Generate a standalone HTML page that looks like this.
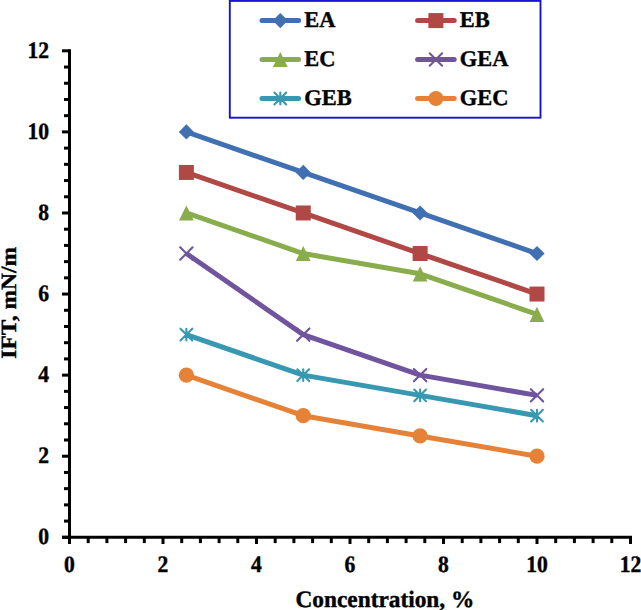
<!DOCTYPE html>
<html><head><meta charset="utf-8"><style>
html,body{margin:0;padding:0;background:#fff;}
svg{display:block;}
text{font-family:"Liberation Serif", serif;font-weight:bold;font-size:23.5px;fill:#000;stroke:#000;stroke-width:0.4px;text-rendering:geometricPrecision;}
</style></head><body>
<svg width="641" height="610" viewBox="0 0 641 610">
<line x1="69.5" y1="49.32" x2="69.5" y2="544.00" stroke="#000" stroke-width="3"/>
<line x1="62.00" y1="537.3" x2="632.00" y2="537.3" stroke="#000" stroke-width="3"/>
<line x1="62.00" y1="537.30" x2="69.50" y2="537.30" stroke="#000" stroke-width="3"/>
<line x1="64.00" y1="521.08" x2="69.50" y2="521.08" stroke="#000" stroke-width="3"/>
<line x1="64.00" y1="504.87" x2="69.50" y2="504.87" stroke="#000" stroke-width="3"/>
<line x1="64.00" y1="488.65" x2="69.50" y2="488.65" stroke="#000" stroke-width="3"/>
<line x1="64.00" y1="472.44" x2="69.50" y2="472.44" stroke="#000" stroke-width="3"/>
<line x1="62.00" y1="456.22" x2="69.50" y2="456.22" stroke="#000" stroke-width="3"/>
<line x1="64.00" y1="440.00" x2="69.50" y2="440.00" stroke="#000" stroke-width="3"/>
<line x1="64.00" y1="423.79" x2="69.50" y2="423.79" stroke="#000" stroke-width="3"/>
<line x1="64.00" y1="407.57" x2="69.50" y2="407.57" stroke="#000" stroke-width="3"/>
<line x1="64.00" y1="391.36" x2="69.50" y2="391.36" stroke="#000" stroke-width="3"/>
<line x1="62.00" y1="375.14" x2="69.50" y2="375.14" stroke="#000" stroke-width="3"/>
<line x1="64.00" y1="358.92" x2="69.50" y2="358.92" stroke="#000" stroke-width="3"/>
<line x1="64.00" y1="342.71" x2="69.50" y2="342.71" stroke="#000" stroke-width="3"/>
<line x1="64.00" y1="326.49" x2="69.50" y2="326.49" stroke="#000" stroke-width="3"/>
<line x1="64.00" y1="310.28" x2="69.50" y2="310.28" stroke="#000" stroke-width="3"/>
<line x1="62.00" y1="294.06" x2="69.50" y2="294.06" stroke="#000" stroke-width="3"/>
<line x1="64.00" y1="277.84" x2="69.50" y2="277.84" stroke="#000" stroke-width="3"/>
<line x1="64.00" y1="261.63" x2="69.50" y2="261.63" stroke="#000" stroke-width="3"/>
<line x1="64.00" y1="245.41" x2="69.50" y2="245.41" stroke="#000" stroke-width="3"/>
<line x1="64.00" y1="229.20" x2="69.50" y2="229.20" stroke="#000" stroke-width="3"/>
<line x1="62.00" y1="212.98" x2="69.50" y2="212.98" stroke="#000" stroke-width="3"/>
<line x1="64.00" y1="196.76" x2="69.50" y2="196.76" stroke="#000" stroke-width="3"/>
<line x1="64.00" y1="180.55" x2="69.50" y2="180.55" stroke="#000" stroke-width="3"/>
<line x1="64.00" y1="164.33" x2="69.50" y2="164.33" stroke="#000" stroke-width="3"/>
<line x1="64.00" y1="148.12" x2="69.50" y2="148.12" stroke="#000" stroke-width="3"/>
<line x1="62.00" y1="131.90" x2="69.50" y2="131.90" stroke="#000" stroke-width="3"/>
<line x1="64.00" y1="115.68" x2="69.50" y2="115.68" stroke="#000" stroke-width="3"/>
<line x1="64.00" y1="99.47" x2="69.50" y2="99.47" stroke="#000" stroke-width="3"/>
<line x1="64.00" y1="83.25" x2="69.50" y2="83.25" stroke="#000" stroke-width="3"/>
<line x1="64.00" y1="67.04" x2="69.50" y2="67.04" stroke="#000" stroke-width="3"/>
<line x1="62.00" y1="50.82" x2="69.50" y2="50.82" stroke="#000" stroke-width="3"/>
<line x1="69.50" y1="537.30" x2="69.50" y2="544.00" stroke="#000" stroke-width="3"/>
<line x1="88.20" y1="537.30" x2="88.20" y2="543.10" stroke="#000" stroke-width="3"/>
<line x1="106.90" y1="537.30" x2="106.90" y2="543.10" stroke="#000" stroke-width="3"/>
<line x1="125.60" y1="537.30" x2="125.60" y2="543.10" stroke="#000" stroke-width="3"/>
<line x1="144.30" y1="537.30" x2="144.30" y2="543.10" stroke="#000" stroke-width="3"/>
<line x1="163.00" y1="537.30" x2="163.00" y2="544.00" stroke="#000" stroke-width="3"/>
<line x1="181.70" y1="537.30" x2="181.70" y2="543.10" stroke="#000" stroke-width="3"/>
<line x1="200.40" y1="537.30" x2="200.40" y2="543.10" stroke="#000" stroke-width="3"/>
<line x1="219.10" y1="537.30" x2="219.10" y2="543.10" stroke="#000" stroke-width="3"/>
<line x1="237.80" y1="537.30" x2="237.80" y2="543.10" stroke="#000" stroke-width="3"/>
<line x1="256.50" y1="537.30" x2="256.50" y2="544.00" stroke="#000" stroke-width="3"/>
<line x1="275.20" y1="537.30" x2="275.20" y2="543.10" stroke="#000" stroke-width="3"/>
<line x1="293.90" y1="537.30" x2="293.90" y2="543.10" stroke="#000" stroke-width="3"/>
<line x1="312.60" y1="537.30" x2="312.60" y2="543.10" stroke="#000" stroke-width="3"/>
<line x1="331.30" y1="537.30" x2="331.30" y2="543.10" stroke="#000" stroke-width="3"/>
<line x1="350.00" y1="537.30" x2="350.00" y2="544.00" stroke="#000" stroke-width="3"/>
<line x1="368.70" y1="537.30" x2="368.70" y2="543.10" stroke="#000" stroke-width="3"/>
<line x1="387.40" y1="537.30" x2="387.40" y2="543.10" stroke="#000" stroke-width="3"/>
<line x1="406.10" y1="537.30" x2="406.10" y2="543.10" stroke="#000" stroke-width="3"/>
<line x1="424.80" y1="537.30" x2="424.80" y2="543.10" stroke="#000" stroke-width="3"/>
<line x1="443.50" y1="537.30" x2="443.50" y2="544.00" stroke="#000" stroke-width="3"/>
<line x1="462.20" y1="537.30" x2="462.20" y2="543.10" stroke="#000" stroke-width="3"/>
<line x1="480.90" y1="537.30" x2="480.90" y2="543.10" stroke="#000" stroke-width="3"/>
<line x1="499.60" y1="537.30" x2="499.60" y2="543.10" stroke="#000" stroke-width="3"/>
<line x1="518.30" y1="537.30" x2="518.30" y2="543.10" stroke="#000" stroke-width="3"/>
<line x1="537.00" y1="537.30" x2="537.00" y2="544.00" stroke="#000" stroke-width="3"/>
<line x1="555.70" y1="537.30" x2="555.70" y2="543.10" stroke="#000" stroke-width="3"/>
<line x1="574.40" y1="537.30" x2="574.40" y2="543.10" stroke="#000" stroke-width="3"/>
<line x1="593.10" y1="537.30" x2="593.10" y2="543.10" stroke="#000" stroke-width="3"/>
<line x1="611.80" y1="537.30" x2="611.80" y2="543.10" stroke="#000" stroke-width="3"/>
<line x1="630.50" y1="537.30" x2="630.50" y2="544.00" stroke="#000" stroke-width="3"/>
<text transform="translate(49.00,544.10) scale(0.92,1.0)" text-anchor="end">0</text>
<text transform="translate(49.00,463.02) scale(0.92,1.0)" text-anchor="end">2</text>
<text transform="translate(49.00,381.94) scale(0.92,1.0)" text-anchor="end">4</text>
<text transform="translate(49.00,300.86) scale(0.92,1.0)" text-anchor="end">6</text>
<text transform="translate(49.00,219.78) scale(0.92,1.0)" text-anchor="end">8</text>
<text transform="translate(49.00,138.70) scale(0.92,1.0)" text-anchor="end">10</text>
<text transform="translate(49.00,57.62) scale(0.92,1.0)" text-anchor="end">12</text>
<text transform="translate(69.50,572.20) scale(0.92,1.0)" text-anchor="middle">0</text>
<text transform="translate(163.00,572.20) scale(0.92,1.0)" text-anchor="middle">2</text>
<text transform="translate(256.50,572.20) scale(0.92,1.0)" text-anchor="middle">4</text>
<text transform="translate(350.00,572.20) scale(0.92,1.0)" text-anchor="middle">6</text>
<text transform="translate(443.50,572.20) scale(0.92,1.0)" text-anchor="middle">8</text>
<text transform="translate(537.00,572.20) scale(0.92,1.0)" text-anchor="middle">10</text>
<text transform="translate(630.50,572.20) scale(0.92,1.0)" text-anchor="middle">12</text>
<text transform="translate(384.90,606.50) scale(0.993,1.0)" text-anchor="middle" font-size="24">Concentration, %</text>
<text transform="translate(16,302.8) rotate(-90) scale(1.0,0.93)" text-anchor="middle" font-size="24">IFT, mN/m</text>
<path d="M186.38 131.90L303.25 172.44L420.12 212.98L537.00 253.52" stroke="#4070B2" stroke-width="5" fill="none" stroke-linejoin="round"/>
<path d="M186.38 124.30L193.97 131.90L186.38 139.50L178.78 131.90Z" fill="#4070B2"/>
<path d="M303.25 164.84L310.85 172.44L303.25 180.04L295.65 172.44Z" fill="#4070B2"/>
<path d="M420.12 205.38L427.73 212.98L420.12 220.58L412.52 212.98Z" fill="#4070B2"/>
<path d="M537.00 245.92L544.60 253.52L537.00 261.12L529.40 253.52Z" fill="#4070B2"/>
<path d="M186.38 172.44L303.25 212.98L420.12 253.52L537.00 294.06" stroke="#B04846" stroke-width="5" fill="none" stroke-linejoin="round"/>
<rect x="178.88" y="164.94" width="15.00" height="15.00" fill="#B04846"/>
<rect x="295.75" y="205.48" width="15.00" height="15.00" fill="#B04846"/>
<rect x="412.62" y="246.02" width="15.00" height="15.00" fill="#B04846"/>
<rect x="529.50" y="286.56" width="15.00" height="15.00" fill="#B04846"/>
<path d="M186.38 212.98L303.25 253.52L420.12 273.79L537.00 314.33" stroke="#89AD4C" stroke-width="5" fill="none" stroke-linejoin="round"/>
<path d="M186.38 205.38L193.78 220.58L178.97 220.58Z" fill="#89AD4C"/>
<path d="M303.25 245.92L310.65 261.12L295.85 261.12Z" fill="#89AD4C"/>
<path d="M420.12 266.19L427.52 281.39L412.73 281.39Z" fill="#89AD4C"/>
<path d="M537.00 306.73L544.40 321.93L529.60 321.93Z" fill="#89AD4C"/>
<path d="M186.38 253.52L303.25 334.60L420.12 375.14L537.00 395.41" stroke="#70549E" stroke-width="5" fill="none" stroke-linejoin="round"/>
<path d="M180.18 247.32L192.57 259.72M192.57 247.32L180.18 259.72" stroke="#70549E" stroke-width="2.1" stroke-linecap="round" fill="none"/>
<path d="M297.05 328.40L309.45 340.80M309.45 328.40L297.05 340.80" stroke="#70549E" stroke-width="2.1" stroke-linecap="round" fill="none"/>
<path d="M413.93 368.94L426.32 381.34M426.32 368.94L413.93 381.34" stroke="#70549E" stroke-width="2.1" stroke-linecap="round" fill="none"/>
<path d="M530.80 389.21L543.20 401.61M543.20 389.21L530.80 401.61" stroke="#70549E" stroke-width="2.1" stroke-linecap="round" fill="none"/>
<path d="M186.38 334.60L303.25 375.14L420.12 395.41L537.00 415.68" stroke="#3898B2" stroke-width="5" fill="none" stroke-linejoin="round"/>
<path d="M180.47 328.70L192.28 340.50M192.28 328.70L180.47 340.50M186.38 328.70L186.38 340.50" stroke="#3898B2" stroke-width="2.1" stroke-linecap="round" fill="none"/>
<path d="M297.35 369.24L309.15 381.04M309.15 369.24L297.35 381.04M303.25 369.24L303.25 381.04" stroke="#3898B2" stroke-width="2.1" stroke-linecap="round" fill="none"/>
<path d="M414.23 389.51L426.02 401.31M426.02 389.51L414.23 401.31M420.12 389.51L420.12 401.31" stroke="#3898B2" stroke-width="2.1" stroke-linecap="round" fill="none"/>
<path d="M531.10 409.78L542.90 421.58M542.90 409.78L531.10 421.58M537.00 409.78L537.00 421.58" stroke="#3898B2" stroke-width="2.1" stroke-linecap="round" fill="none"/>
<path d="M186.38 375.14L303.25 415.68L420.12 435.95L537.00 456.22" stroke="#E68237" stroke-width="5" fill="none" stroke-linejoin="round"/>
<circle cx="186.38" cy="375.14" r="7.6" fill="#E68237"/>
<circle cx="303.25" cy="415.68" r="7.6" fill="#E68237"/>
<circle cx="420.12" cy="435.95" r="7.6" fill="#E68237"/>
<circle cx="537.00" cy="456.22" r="7.6" fill="#E68237"/>
<rect x="229.8" y="0.9" width="310.7" height="116.8" fill="#fff" stroke="#1812D4" stroke-width="1.9"/>
<line x1="262.0" y1="20.6" x2="298.6" y2="20.6" stroke="#4070B2" stroke-width="5" stroke-linecap="round"/>
<path d="M280.30 13.00L287.90 20.60L280.30 28.20L272.70 20.60Z" fill="#4070B2"/>
<text transform="translate(304.30,27.30) scale(0.955,0.955)" text-anchor="start" font-size="22">EA</text>
<line x1="417.6" y1="20.6" x2="454.2" y2="20.6" stroke="#B04846" stroke-width="5" stroke-linecap="round"/>
<rect x="428.40" y="13.10" width="15.00" height="15.00" fill="#B04846"/>
<text transform="translate(459.80,27.30) scale(0.955,0.955)" text-anchor="start" font-size="22">EB</text>
<line x1="262.0" y1="59.5" x2="298.6" y2="59.5" stroke="#89AD4C" stroke-width="5" stroke-linecap="round"/>
<path d="M280.30 51.90L287.70 67.10L272.90 67.10Z" fill="#89AD4C"/>
<text transform="translate(304.30,66.20) scale(0.955,0.955)" text-anchor="start" font-size="22">EC</text>
<line x1="417.6" y1="59.5" x2="454.2" y2="59.5" stroke="#70549E" stroke-width="5" stroke-linecap="round"/>
<path d="M429.70 53.30L442.10 65.70M442.10 53.30L429.70 65.70" stroke="#70549E" stroke-width="2.1" stroke-linecap="round" fill="none"/>
<text transform="translate(459.80,66.20) scale(0.955,0.955)" text-anchor="start" font-size="22">GEA</text>
<line x1="262.0" y1="98.5" x2="298.6" y2="98.5" stroke="#3898B2" stroke-width="5" stroke-linecap="round"/>
<path d="M274.40 92.60L286.20 104.40M286.20 92.60L274.40 104.40M280.30 92.60L280.30 104.40" stroke="#3898B2" stroke-width="2.1" stroke-linecap="round" fill="none"/>
<text transform="translate(304.30,105.20) scale(0.955,0.955)" text-anchor="start" font-size="22">GEB</text>
<line x1="417.6" y1="98.5" x2="454.2" y2="98.5" stroke="#E68237" stroke-width="5" stroke-linecap="round"/>
<circle cx="435.90" cy="98.50" r="7.6" fill="#E68237"/>
<text transform="translate(459.80,105.20) scale(0.955,0.955)" text-anchor="start" font-size="22">GEC</text>
</svg>
</body></html>
